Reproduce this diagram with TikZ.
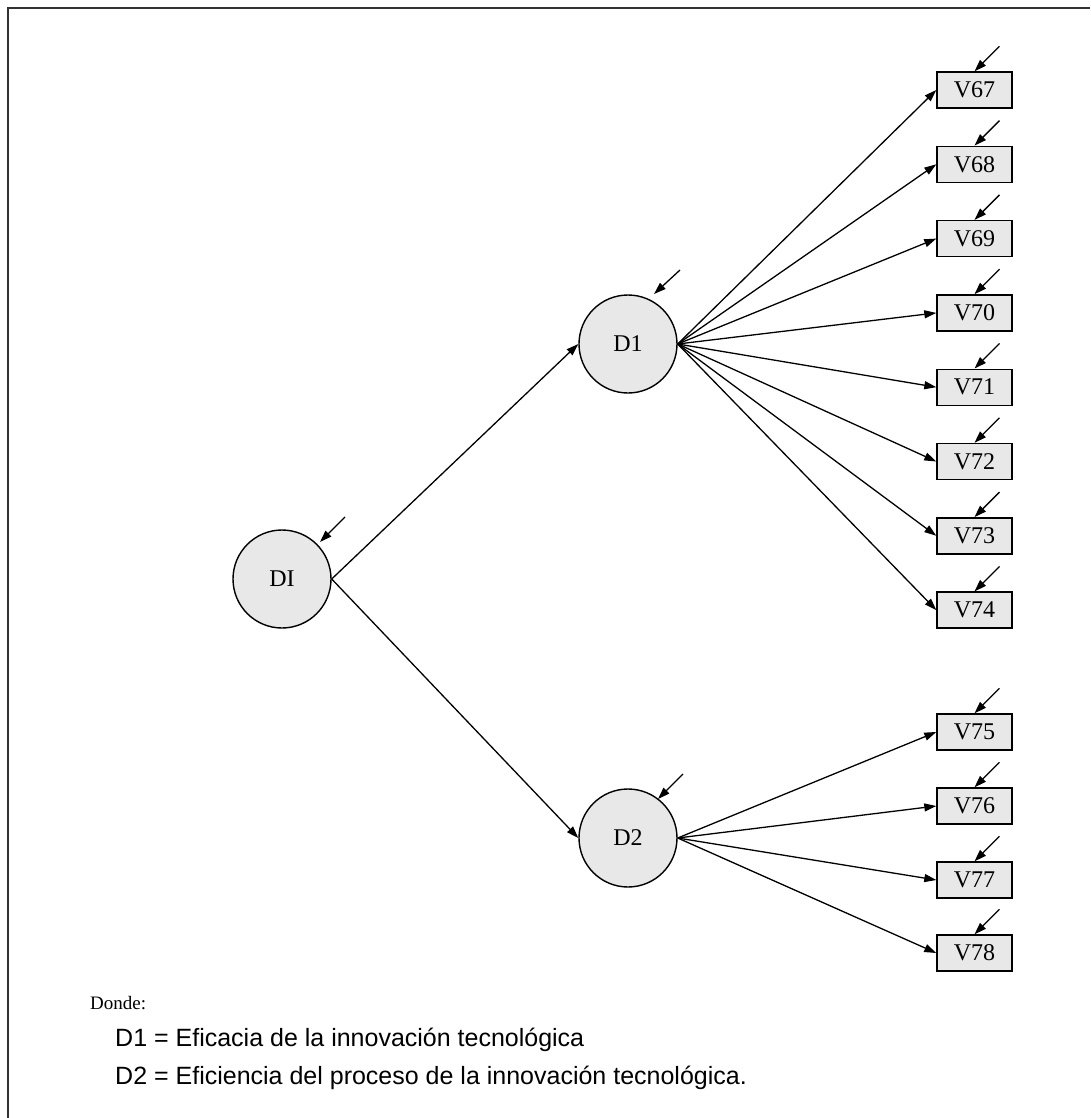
\documentclass[tikz,border=0pt]{standalone}
\usepackage{fontspec}
\setmainfont{Liberation Serif}
\newfontfamily\legendfont{Liberation Sans}
\usetikzlibrary{arrows.meta,calc}
\definecolor{latent}{RGB}{232,232,232}
\definecolor{framegray}{RGB}{50,50,50}

\begin{document}
\begin{tikzpicture}[x=1pt,y=-1pt,
  labelfont/.style={font=\fontsize{24}{28}\selectfont},
  lv/.style={circle, draw, line width=1.4pt, fill=latent, minimum size=98pt,
    inner sep=0pt, labelfont},
  ov/.style={rectangle, draw, line width=1.4pt, fill=latent, minimum width=75pt,
    minimum height=36pt, inner sep=0pt, labelfont},
  link/.style={line width=1.3pt, -{Triangle[length=12pt,width=8pt]}},
  err/.style={line width=1.3pt, -{Triangle[length=12pt,width=8pt]}}
]
\useasboundingbox (0,0) rectangle (1090,1118);
\fill[white] (0,0) rectangle (1090,1118);

% page frame (top and left edges)
\draw[line width=2pt, draw=framegray] (8,1118) -- (8,8) -- (1090,8);

% latent variables
\node[lv] (DI) at (282,579) {DI};
\node[lv] (D1) at (628,344) {D1};
\node[lv] (D2) at (628,838) {D2};

% indicators of D1
\foreach \n [count=\i from 0] in {67,...,74}
  \node[ov] (V\n) at (974.5,{90+74.3*\i}) {V\n};
% indicators of D2
\foreach \n/\y in {75/732,76/806,77/880,78/953}
  \node[ov] (V\n) at (974.5,\y) {V\n};

% structural paths
\draw[link] (DI.east) -- (D1.west);
\draw[link] (DI.east) -- (D2.west);

% loadings
\foreach \n in {67,...,74}
  \draw[link] (D1.east) -- (V\n.west);
\foreach \n in {75,...,78}
  \draw[link] (D2.east) -- (V\n.west);

% disturbance arrows on latent variables
\coordinate (eDIs) at (345,517);
\coordinate (eDIt) at (320,542);
\coordinate (eD1s) at (680,270);
\coordinate (eD1t) at (654,294);
\coordinate (eD2s) at (683,774);
\coordinate (eD2t) at (658,799);
\draw[err] (eDIs) -- (eDIt);
\draw[err] (eD1s) -- (eD1t);
\draw[err] (eD2s) -- (eD2t);

% error arrows on indicators
\foreach \n in {67,...,78} {
  \coordinate (e\n) at ($(V\n.north)+(25,-25)$);
  \draw[err] (e\n) -- (V\n.north);
}

% legend
\node[anchor=base west, inner sep=0pt, font=\fontsize{19}{22}\selectfont]
  (donde) at (90,1009) {Donde:};
\node[anchor=base west, inner sep=0pt, font=\legendfont\fontsize{25}{30}\selectfont]
  (leg1) at (115,1046) {D1 = Eficacia de la innovación tecnológica};
\node[anchor=base west, inner sep=0pt, font=\legendfont\fontsize{25}{30}\selectfont]
  (leg2) at (115,1084) {D2 = Eficiencia del proceso de la innovación tecnológica.};
\end{tikzpicture}
\end{document}
